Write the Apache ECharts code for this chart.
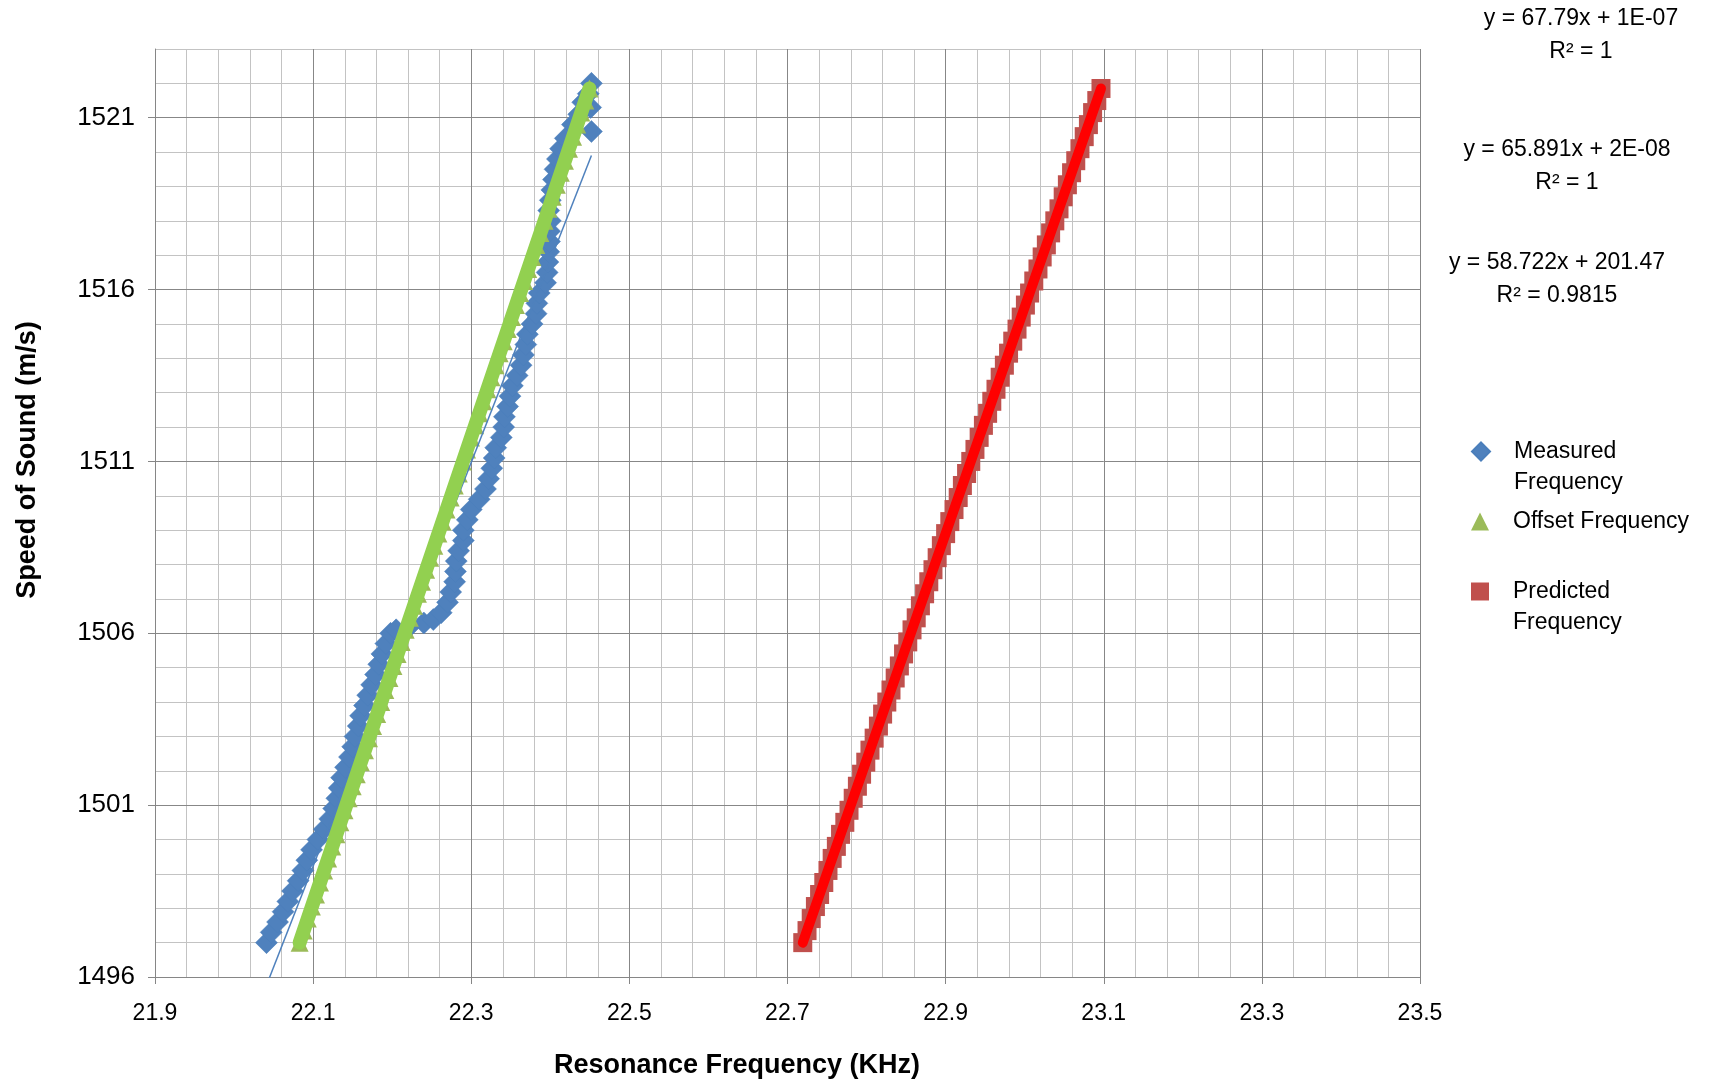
<!DOCTYPE html>
<html>
<head>
<meta charset="utf-8">
<title>Speed of Sound vs Resonance Frequency</title>
<script src="https://cdn.jsdelivr.net/npm/echarts@6/dist/echarts.min.js"></script>
<style>
  html, body { margin: 0; padding: 0; background: #fff; }
  #chart { width: 1716px; height: 1084px; }
</style>
</head>
<body>
<div id="chart"></div>
<script>
  const FONT = '"Liberation Sans", Arial, sans-serif';

  // tick labels (major grid)
  const xTicks = [21.9, 22.1, 22.3, 22.5, 22.7, 22.9, 23.1, 23.3, 23.5];
  const yTicks = [1496, 1501, 1506, 1511, 1516, 1521];
  // minor grid positions
  const xMinor = [
    21.94, 21.98, 22.02, 22.06, 22.14, 22.18, 22.22, 22.26, 22.34, 22.38, 22.42, 22.46,
    22.54, 22.58, 22.62, 22.66, 22.74, 22.78, 22.82, 22.86, 22.94, 22.98, 23.02, 23.06,
    23.14, 23.18, 23.22, 23.26, 23.34, 23.38, 23.42, 23.46
  ];
  const yMinor = [
    1497, 1498, 1499, 1500, 1502, 1503, 1504, 1505, 1507, 1508, 1509, 1510,
    1512, 1513, 1514, 1515, 1517, 1518, 1519, 1520, 1522, 1523
  ];

  // measured frequency (KHz) vs speed of sound (m/s)
  const measuredSpeed = [
    1497.00, 1497.30, 1497.60, 1497.90, 1498.20, 1498.50, 1498.80, 1499.10, 1499.40, 1499.70,
    1500.00, 1500.30, 1500.60, 1500.90, 1501.20, 1501.50, 1501.80, 1502.10, 1502.40, 1502.70,
    1503.00, 1503.30, 1503.60, 1503.90, 1504.20, 1504.50, 1504.80, 1505.10, 1505.40, 1505.70,
    1506.00, 1506.10, 1506.20, 1506.30, 1506.40, 1506.60, 1506.90, 1507.20, 1507.50, 1507.80,
    1508.10, 1508.40, 1508.70, 1509.00, 1509.30, 1509.60, 1509.90, 1510.20, 1510.50, 1510.80,
    1511.10, 1511.40, 1511.70, 1512.00, 1512.30, 1512.60, 1512.90, 1513.20, 1513.50, 1513.80,
    1514.10, 1514.40, 1514.70, 1515.00, 1515.30, 1515.60, 1515.90, 1516.20, 1516.50, 1516.80,
    1517.10, 1517.40, 1517.70, 1518.00, 1518.30, 1518.60, 1518.90, 1519.20, 1519.50, 1519.80,
    1520.10, 1520.40, 1520.60, 1520.80, 1521.10, 1521.30, 1521.45, 1521.70, 1522.00
  ];
  const measuredFreq = [
    22.041, 22.047, 22.055, 22.062, 22.068, 22.074, 22.081, 22.087, 22.092, 22.098,
    22.106, 22.114, 22.121, 22.126, 22.130, 22.133, 22.136, 22.141, 22.146, 22.150,
    22.153, 22.157, 22.160, 22.165, 22.169, 22.174, 22.179, 22.183, 22.187, 22.192,
    22.198, 22.205, 22.222, 22.240, 22.252, 22.262, 22.270, 22.274, 22.279, 22.280,
    22.281, 22.284, 22.290, 22.290, 22.295, 22.300, 22.310, 22.318, 22.322, 22.326,
    22.329, 22.331, 22.338, 22.341, 22.342, 22.346, 22.349, 22.352, 22.358, 22.363,
    22.366, 22.369, 22.371, 22.377, 22.382, 22.383, 22.386, 22.394, 22.396, 22.397,
    22.398, 22.399, 22.399, 22.400, 22.398, 22.400, 22.402, 22.404, 22.406, 22.409,
    22.413, 22.419, 22.452, 22.428, 22.436, 22.451, 22.441, 22.448, 22.452
  ];

  // offset and predicted series share these speeds
  const speed = [
    1497.00, 1497.35, 1497.70, 1498.05, 1498.40, 1498.75, 1499.10, 1499.45, 1499.80, 1500.15,
    1500.50, 1500.85, 1501.20, 1501.55, 1501.90, 1502.25, 1502.60, 1502.95, 1503.30, 1503.65,
    1504.00, 1504.35, 1504.70, 1505.05, 1505.40, 1505.75, 1506.10, 1506.45, 1506.80, 1507.15,
    1507.50, 1507.85, 1508.20, 1508.55, 1508.90, 1509.25, 1509.60, 1509.95, 1510.30, 1510.65,
    1511.00, 1511.35, 1511.70, 1512.05, 1512.40, 1512.75, 1513.10, 1513.45, 1513.80, 1514.15,
    1514.50, 1514.85, 1515.20, 1515.55, 1515.90, 1516.25, 1516.60, 1516.95, 1517.30, 1517.65,
    1518.00, 1518.35, 1518.70, 1519.05, 1519.40, 1519.75, 1520.10, 1520.45, 1520.80, 1521.15,
    1521.50, 1521.85
  ];
  const offsetFreq = [
    22.0829, 22.0881, 22.0932, 22.0984, 22.1036, 22.1087, 22.1139, 22.1190, 22.1242, 22.1294,
    22.1345, 22.1397, 22.1449, 22.1500, 22.1552, 22.1603, 22.1655, 22.1707, 22.1758, 22.1810,
    22.1862, 22.1913, 22.1965, 22.2016, 22.2068, 22.2120, 22.2171, 22.2223, 22.2275, 22.2326,
    22.2378, 22.2429, 22.2481, 22.2533, 22.2584, 22.2636, 22.2688, 22.2739, 22.2791, 22.2842,
    22.2894, 22.2946, 22.2997, 22.3049, 22.3101, 22.3152, 22.3204, 22.3255, 22.3307, 22.3359,
    22.3410, 22.3462, 22.3514, 22.3565, 22.3617, 22.3669, 22.3720, 22.3772, 22.3823, 22.3875,
    22.3927, 22.3978, 22.4030, 22.4082, 22.4133, 22.4185, 22.4236, 22.4288, 22.4340, 22.4391,
    22.4443, 22.4495
  ];
  const predictedFreq = [
    22.7193, 22.7247, 22.7300, 22.7353, 22.7406, 22.7459, 22.7512, 22.7565, 22.7618, 22.7671,
    22.7725, 22.7778, 22.7831, 22.7884, 22.7937, 22.7990, 22.8043, 22.8096, 22.8150, 22.8203,
    22.8256, 22.8309, 22.8362, 22.8415, 22.8468, 22.8521, 22.8575, 22.8628, 22.8681, 22.8734,
    22.8787, 22.8840, 22.8893, 22.8946, 22.9000, 22.9053, 22.9106, 22.9159, 22.9212, 22.9265,
    22.9318, 22.9371, 22.9424, 22.9478, 22.9531, 22.9584, 22.9637, 22.9690, 22.9743, 22.9796,
    22.9849, 22.9903, 22.9956, 23.0009, 23.0062, 23.0115, 23.0168, 23.0221, 23.0274, 23.0328,
    23.0381, 23.0434, 23.0487, 23.0540, 23.0593, 23.0646, 23.0699, 23.0753, 23.0806, 23.0859,
    23.0912, 23.0965
  ];

  // linear trendline end points
  const measuredTrend = [[22.041, 1495.76], [22.452, 1519.90]];
  const offsetTrend = [[22.0829, 1497.00], [22.4495, 1521.85]];
  const predictedTrend = [[22.7193, 1497.00], [23.0965, 1521.85]];

  const equations = [
    'y = 67.79x + 1E-07\nR² = 1',
    'y = 65.891x + 2E-08\nR² = 1',
    'y = 58.722x + 201.47\nR² = 0.9815'
  ];

  const MAJOR = '#878787';
  const MINOR = '#c3c3c3';
  const AXIS = '#868686';

  const zip = (xs, ys) => xs.map((x, i) => [x, ys[i]]);

  const chart = echarts.init(document.getElementById('chart'));

  const legendText = {
    color: '#000',
    fontFamily: FONT,
    fontSize: 23,
    lineHeight: 31,
    padding: [0, 0, 0, 19]
  };

  // hidden axis only used for the minor grid lines
  const minorAxis = (min, max, values) => ({
    type: 'value',
    min: min,
    max: max,
    axisLine: { show: false },
    axisTick: { show: true, length: 0, customValues: values, lineStyle: { color: 'rgba(0,0,0,0)' } },
    axisLabel: { show: false, customValues: values },
    splitLine: { show: true, lineStyle: { color: MINOR, width: 1 } }
  });

  const textStyle = (text, font, extra) => Object.assign({
    text: text, fill: '#000', font: font,
    align: 'center', verticalAlign: 'middle', textAlign: 'center', textVerticalAlign: 'middle'
  }, extra || {});

  const option = {
    animation: false,
    backgroundColor: '#fff',
    grid: { left: 155, top: 49, width: 1265, height: 928 },
    xAxis: [
      {
        type: 'value',
        min: 21.9,
        max: 23.5,
        axisLine: { show: true, lineStyle: { color: AXIS, width: 1 } },
        axisTick: { show: true, length: 7, customValues: xTicks, lineStyle: { color: AXIS } },
        axisLabel: {
          customValues: xTicks,
          formatter: (v) => v.toFixed(1),
          color: '#000',
          fontFamily: FONT,
          fontSize: 23,
          margin: 25
        },
        splitLine: { show: true, lineStyle: { color: MAJOR, width: 1 } },
        z: 3
      },
      minorAxis(21.9, 23.5, xMinor)
    ],
    yAxis: [
      {
        type: 'value',
        min: 1496,
        max: 1523,
        axisLine: { show: true, lineStyle: { color: AXIS, width: 1 } },
        axisTick: { show: true, length: 7, customValues: yTicks, lineStyle: { color: AXIS } },
        axisLabel: {
          customValues: yTicks,
          formatter: (v) => String(v),
          color: '#000',
          fontFamily: FONT,
          fontSize: 26,
          margin: 20
        },
        splitLine: { show: true, lineStyle: { color: MAJOR, width: 1 } },
        z: 3
      },
      minorAxis(1496, 1523, yMinor)
    ],
    legend: [
      {
        data: [{ name: 'Measured Frequency', icon: 'diamond' }],
        left: 1471, top: 405, padding: 0, itemWidth: 18, itemHeight: 18, selectedMode: false,
        formatter: '\u00a0\nMeasured\nFrequency',
        textStyle: legendText
      },
      {
        data: [{ name: 'Offset Frequency', icon: 'triangle' }],
        left: 1471, top: 506, padding: 0, itemWidth: 18, itemHeight: 18, selectedMode: false,
        textStyle: legendText
      },
      {
        data: [{ name: 'Predicted Frequency', icon: 'rect' }],
        left: 1471, top: 545, padding: 0, itemWidth: 18, itemHeight: 18, selectedMode: false,
        formatter: '\u00a0\nPredicted\nFrequency',
        textStyle: legendText
      }
    ],
    graphic: [
      {
        type: 'text', x: 28, y: 460, rotation: Math.PI / 2,
        style: textStyle('Speed of Sound (m/s)', 'bold 27px ' + FONT)
      },
      {
        type: 'text', x: 737, y: 1066,
        style: textStyle('Resonance Frequency (KHz)', 'bold 27px ' + FONT)
      },
      { type: 'text', x: 1581, y: 35, style: textStyle(equations[0], '23px ' + FONT, { lineHeight: 33 }) },
      { type: 'text', x: 1567, y: 166, style: textStyle(equations[1], '23px ' + FONT, { lineHeight: 33 }) },
      { type: 'text', x: 1557, y: 279, style: textStyle(equations[2], '23px ' + FONT, { lineHeight: 33 }) }
    ],
    series: [
      {
        name: 'Measured Frequency',
        type: 'scatter',
        symbol: 'diamond',
        symbolSize: 22,
        data: zip(measuredFreq, measuredSpeed),
        itemStyle: { color: '#4F81BD', borderColor: '#4A7EBB', borderWidth: 0.5, opacity: 1 },
        z: 4
      },
      {
        name: 'Offset Frequency',
        type: 'scatter',
        symbol: 'triangle',
        symbolSize: 18,
        data: zip(offsetFreq, speed),
        itemStyle: { color: '#9BBB59', opacity: 1 },
        z: 4
      },
      {
        name: 'Predicted Frequency',
        type: 'scatter',
        symbol: 'rect',
        symbolSize: 19,
        data: zip(predictedFreq, speed),
        itemStyle: { color: '#C0504D', opacity: 1 },
        z: 4
      },
      {
        name: 'Measured trend',
        type: 'line',
        symbol: 'none',
        clip: true,
        data: measuredTrend,
        lineStyle: { color: '#4F81BD', width: 1.5 },
        z: 5
      },
      {
        name: 'Offset trend',
        type: 'line',
        symbol: 'none',
        clip: true,
        data: offsetTrend,
        lineStyle: { color: '#92D050', width: 14, cap: 'round' },
        z: 5
      },
      {
        name: 'Predicted trend',
        type: 'line',
        symbol: 'none',
        clip: true,
        data: predictedTrend,
        lineStyle: { color: '#FF0000', width: 10, cap: 'round' },
        z: 5
      }
    ]
  };

  chart.setOption(option);
</script>
</body>
</html>
